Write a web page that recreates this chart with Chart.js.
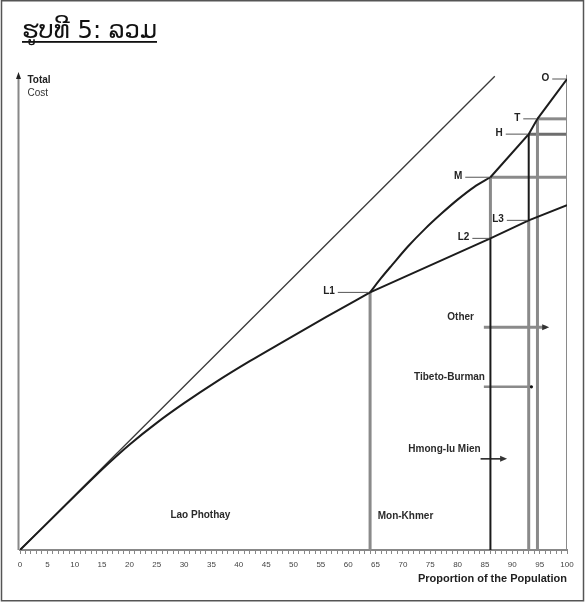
<!DOCTYPE html>
<html>
<head>
<meta charset="utf-8">
<script src="https://cdn.jsdelivr.net/npm/chart.js@4.4.1/dist/chart.umd.min.js"></script>
<style>
html, body { margin: 0; padding: 0; background: #fff; }
#wrap { width: 585px; height: 604px; position: relative; }
</style>
</head>
<body>
<div id="wrap"><canvas id="canvas"></canvas></div>
<script>
// x = proportion of the population, y = total cost
var diagX = [0, 86.8];
var diagY = [0, 86.8];
var lowX = [0, 8, 16, 20, 25, 30, 36, 42, 48, 56, 64];
var lowY = [0, 7.9, 15.7, 19.3, 23.3, 26.9, 30.9, 34.6, 38.1, 42.7, 47.2];
var lineX = [64, 86, 93, 100];
var lineY = [47.2, 57.1, 60.4, 63.2];
var upX = [64, 66, 68, 71, 74, 77, 80, 83, 86];
var upY = [47.2, 49.8, 52.2, 55.7, 58.8, 61.6, 64.2, 66.5, 68.3];
var topX = [86, 93, 94.6, 100];
var topY = [68.3, 76.2, 79, 86.3];

// named points on the curves
var pointNames = ["L1", "L2", "L3", "M", "H", "T", "O"];
var pointX = [64, 86, 93, 86, 93, 94.6, 100];
var pointY = [47.2, 57.1, 60.4, 68.3, 76.2, 79, 86.3];
var leaderLen = [5.9, 3.3, 4.0, 4.6, 4.2, 2.6, 2.7];

// group labels
var groupNames = ["Lao Phothay", "Mon-Khmer", "Hmong-Iu Mien", "Tibeto-Burman", "Other"];
var groupX = [27.5, 65.4, 84.2, 85, 83];
var groupY = [6.4, 6.2, 18.5, 31.7, 42.7];

// arrows under the small groups
var arrowFrom = [84.2, 84.8, 84.8];
var arrowTo = [88.5, 93.5, 96.2];
var arrowY = [16.7, 29.9, 40.8];

var xTickLabels = [0, 5, 10, 15, 20, 25, 30, 35, 40, 45, 50, 55, 60, 65, 70, 75, 80, 85, 90, 95, 100];
var yMax = 87.4;

var FONT = '"Liberation Sans", Arial, Helvetica, sans-serif';

function zip(xs, ys) {
	return xs.map(function(x, i) { return { x: x, y: ys[i] }; });
}
function seg(x0, y0, x1, y1, color, width) {
	return {
		data: [{ x: x0, y: y0 }, { x: x1, y: y1 }],
		borderColor: color, borderWidth: width, showLine: true, pointRadius: 0, fill: false
	};
}
function curve(xs, ys, width, smooth) {
	return {
		data: zip(xs, ys), borderColor: "#1c1c1c", borderWidth: width, showLine: true,
		pointRadius: 0, fill: false, cubicInterpolationMode: smooth ? "monotone" : "default"
	};
}

var gray = "#8a8a8a", black = "#1a1a1a";
var datasets = [
	curve(upX, upY, 2, true),
	curve(topX, topY, 2, false),
	curve(lowX, lowY, 2, true),
	curve(lineX, lineY, 2, false),
	seg(diagX[0], diagY[0], diagX[1], diagY[1], "#3a3a3a", 1.3),
	// verticals
	seg(pointX[0], 0, pointX[0], pointY[0], gray, 3),
	seg(pointX[1], pointY[1], pointX[3], pointY[3], gray, 3),
	seg(pointX[1], 0, pointX[1], pointY[1], black, 2),
	seg(pointX[2], pointY[2], pointX[4], pointY[4], black, 2),
	seg(pointX[2], 0, pointX[2], pointY[2], gray, 3),
	seg(pointX[5], 0, pointX[5], pointY[5], gray, 3),
	seg(100, 0, 100, yMax - 0.3, gray, 2),
	// horizontals
	seg(pointX[3], pointY[3], 100, pointY[3], gray, 3),
	seg(pointX[4], pointY[4], 100, pointY[4], "#6e6e6e", 3),
	seg(pointX[5], pointY[5], 100, pointY[5], gray, 3),
	// arrows
	seg(arrowFrom[0], arrowY[0], arrowTo[0], arrowY[0], black, 1.5),
	seg(arrowFrom[1], arrowY[1], arrowTo[1], arrowY[1], gray, 2.5),
	seg(arrowFrom[2], arrowY[2], arrowTo[2], arrowY[2], gray, 3)
];

var drawExtras = {
	id: "drawExtras",
	afterDatasetsDraw: function(chart) {
		var ctx = chart.ctx, xs = chart.scales.x, ys = chart.scales.y;
		var px = function(v) { return xs.getPixelForValue(v); };
		var py = function(v) { return ys.getPixelForValue(v); };
		ctx.save();

		// y axis with arrow
		var ax = chart.chartArea.left - 1.5;
		ctx.strokeStyle = "#888"; ctx.lineWidth = 2;
		ctx.beginPath(); ctx.moveTo(ax, py(0)); ctx.lineTo(ax, py(yMax) + 5); ctx.stroke();
		ctx.fillStyle = "#222";
		ctx.beginPath(); ctx.moveTo(ax, py(yMax) - 1); ctx.lineTo(ax - 2.5, py(yMax) + 6); ctx.lineTo(ax + 2.5, py(yMax) + 6); ctx.closePath(); ctx.fill();
		ctx.textAlign = "left"; ctx.textBaseline = "middle";
		ctx.font = "bold 10px " + FONT; ctx.fillStyle = "#222";
		ctx.fillText("Total", ax + 9, py(yMax) + 7);
		ctx.font = "10px " + FONT; ctx.fillStyle = "#333";
		ctx.fillText("Cost", ax + 9, py(yMax) + 20);

		// arrow heads
		ctx.fillStyle = "#333";
		[0, 2].forEach(function(i) {
			var x = px(arrowTo[i]), y = py(arrowY[i]);
			ctx.beginPath(); ctx.moveTo(x + 3, y); ctx.lineTo(x - 4, y - 3); ctx.lineTo(x - 4, y + 3); ctx.closePath(); ctx.fill();
		});
		ctx.fillStyle = "#111";
		ctx.beginPath(); ctx.arc(px(arrowTo[1]), py(arrowY[1]), 1.6, 0, Math.PI * 2); ctx.fill();

		// point labels with leader lines
		ctx.font = "bold 10px " + FONT;
		ctx.textAlign = "right"; ctx.textBaseline = "middle";
		pointNames.forEach(function(name, i) {
			var x1 = px(pointX[i]) - 1, y = py(pointY[i]);
			var x0 = px(pointX[i] - leaderLen[i]);
			ctx.strokeStyle = "#555"; ctx.lineWidth = 1;
			ctx.beginPath(); ctx.moveTo(x0, y); ctx.lineTo(x1, y); ctx.stroke();
			ctx.fillStyle = "#222";
			ctx.fillText(name, x0 - 3, y - 1);
		});

		// group labels
		groupNames.forEach(function(name, i) {
			ctx.textAlign = i < 2 ? "left" : "right";
			ctx.fillStyle = "#2a2a2a";
			ctx.fillText(name, px(groupX[i]), py(groupY[i]));
		});
		ctx.restore();
	},
	afterDraw: function(chart) {
		var ctx = chart.ctx;
		ctx.save();
		// frame
		ctx.strokeStyle = "#555"; ctx.lineWidth = 1.5;
		ctx.strokeRect(1.5, 0.75, 582, 600);
		// title
		var title = "ຮູບທີ 5: ລວມ";
		ctx.font = '20px "DejaVu Sans", "Noto Sans", sans-serif';
		var w = ctx.measureText(title).width;
		var size = 20 * 135 / w;
		ctx.font = size.toFixed(1) + 'px "DejaVu Sans", "Noto Sans", sans-serif';
		ctx.fillStyle = "#111"; ctx.textAlign = "left"; ctx.textBaseline = "alphabetic";
		ctx.fillText(title, 22, 38);
		ctx.fillRect(22, 41, 135, 1.8);
		ctx.restore();
	}
};

var chart = new Chart(document.getElementById("canvas").getContext("2d"), {
	type: "scatter",
	data: { datasets: datasets },
	options: {
		responsive: true,
		maintainAspectRatio: false,
		animation: false,
		layout: { padding: { left: 20, right: 18, top: 73, bottom: 0 } },
		plugins: { legend: { display: false }, tooltip: { enabled: false }, title: { display: false } },
		elements: { line: { tension: 0 } },
		scales: {
			x: {
				type: "linear", min: 0, max: 100,
				afterFit: function(s) { s.height = 54; },
				border: { display: true, color: "#888", width: 2 },
				grid: { display: true, drawOnChartArea: false, drawTicks: true, tickLength: 4, color: "#888", lineWidth: 1 },
				ticks: {
					stepSize: 1, maxTicksLimit: 101, autoSkip: false, maxRotation: 0, minRotation: 0,
					padding: 6, color: "#444", font: { size: 8, family: FONT },
					callback: function(v) { return xTickLabels.indexOf(v) >= 0 ? String(v) : ""; }
				},
				title: {
					display: true, text: "Proportion of the Population", align: "end", color: "#222",
					font: { size: 11, weight: "bold", family: FONT }, padding: { top: 0, bottom: 18 }
				}
			},
			y: { type: "linear", min: 0, max: yMax, display: false }
		}
	},
	plugins: [drawExtras]
});
</script>
</body>
</html>
